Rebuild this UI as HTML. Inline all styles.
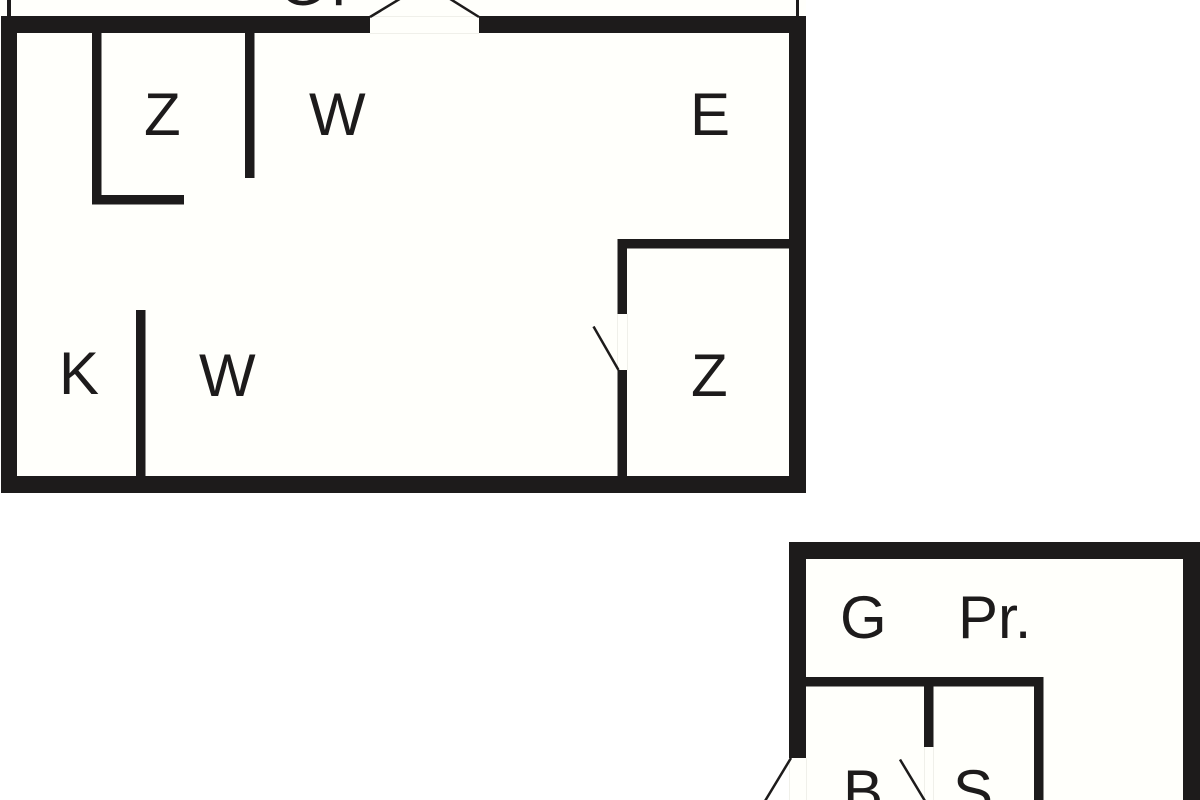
<!DOCTYPE html>
<html>
<head>
<meta charset="utf-8">
<style>
html,body{margin:0;padding:0;background:#fff;width:1200px;height:800px;overflow:hidden}
svg{display:block}
text{font-family:"Liberation Sans",sans-serif;font-size:60px;fill:#1d1b1b}
</style>
</head>
<body>
<svg width="1200" height="800" viewBox="0 0 1200 800" xmlns="http://www.w3.org/2000/svg">
<rect width="1200" height="800" fill="#ffffff"/>

<!-- Upper plan -->
<rect x="1" y="16" width="805" height="477" fill="#1d1b1b"/>
<rect x="17" y="33" width="772" height="443" fill="#fffffb"/>
<rect x="0" y="0" width="806" height="16" fill="#fffffb"/>
<rect x="7" y="0" width="4" height="17" fill="#1d1b1b"/>
<rect x="796" y="0" width="3" height="17" fill="#1d1b1b"/>
<text x="279" y="5">G</text>
<text x="331" y="5">P</text>

<rect x="370" y="16" width="109" height="18" fill="#fffffb"/>
<path d="M370 16.5H479M370 33.5H479" stroke="#f0f0ea" stroke-width="1" fill="none"/>
<path d="M370 17L403 -3M479 17L447 -3" stroke="#1d1b1b" stroke-width="2.5" fill="none"/>

<rect x="92" y="33" width="9.5" height="171" fill="#1d1b1b"/>
<rect x="92" y="195" width="92" height="9.5" fill="#1d1b1b"/>
<rect x="245" y="33" width="9.5" height="145" fill="#1d1b1b"/>
<rect x="136" y="310" width="9.5" height="166" fill="#1d1b1b"/>
<rect x="617.5" y="239" width="172" height="9.5" fill="#1d1b1b"/>
<rect x="617.5" y="239" width="9.5" height="75" fill="#1d1b1b"/>
<rect x="617.5" y="370" width="9.5" height="106" fill="#1d1b1b"/>
<path d="M617.5 314V370M627.5 314V370" stroke="#f0f0ea" stroke-width="1" fill="none"/>
<path d="M593.5 326.5L618.5 370" stroke="#1d1b1b" stroke-width="2.5" fill="none"/>

<text x="144" y="135">Z</text>
<text x="309" y="135">W</text>
<text x="690" y="135">E</text>
<text x="59" y="394">K</text>
<text x="199" y="396">W</text>
<text x="691" y="396">Z</text>

<!-- Lower plan -->
<rect x="789" y="542" width="411" height="258" fill="#1d1b1b"/>
<rect x="806" y="559" width="377" height="241" fill="#fffffb"/>
<rect x="789" y="758" width="17" height="42" fill="#fffffb"/>
<path d="M789.5 758V800M806.5 758V800M924.5 747V800M933.5 747V800" stroke="#f0f0ea" stroke-width="1" fill="none"/>
<rect x="806" y="677" width="237" height="9.5" fill="#1d1b1b"/>
<rect x="1034" y="677" width="9.5" height="123" fill="#1d1b1b"/>
<rect x="924" y="677" width="9.5" height="70" fill="#1d1b1b"/>
<path d="M791 758L765 801M900 759.5L925 801" stroke="#1d1b1b" stroke-width="2.5" fill="none"/>

<text x="840" y="638">G</text>
<text x="958" y="638">Pr.</text>
<text x="843" y="812">B</text>
<text x="953" y="812">S</text>
</svg>
</body>
</html>
